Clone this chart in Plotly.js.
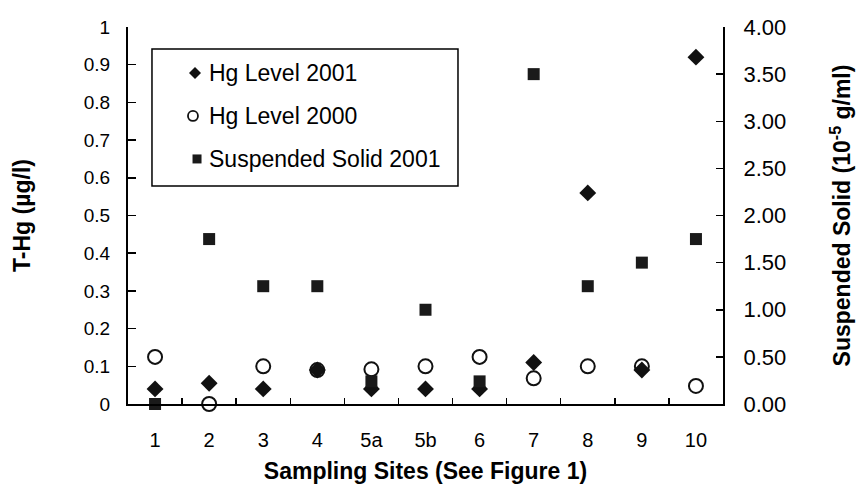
<!DOCTYPE html>
<html>
<head>
<meta charset="utf-8">
<script src="https://cdn.plot.ly/plotly-3.0.1.min.js"></script>
<style>html,body{margin:0;padding:0;background:#fff;}#chart{width:861px;height:484px;}</style>
</head>
<body>
<div id="chart"></div>
<script>
const sites = ["1", "2", "3", "4", "5a", "5b", "6", "7", "8", "9", "10"];
const hgLevel2001 = [0.04, 0.055, 0.04, 0.09, 0.04, 0.04, 0.04, 0.11, 0.56, 0.09, 0.92];
const hgLevel2000 = [0.125, 0.0, 0.10, 0.09, 0.092, 0.10, 0.125, 0.068, 0.10, 0.10, 0.048];
const suspendedSolid2001 = [0.0, 1.75, 1.25, 1.25, 0.24, 1.0, 0.24, 3.5, 1.25, 1.5, 1.75];
const seriesNames = ["Hg Level 2001", "Hg Level 2000", "Suspended Solid 2001"];

const FONT = "Liberation Sans, Arial, sans-serif";
const INK = "#111111";

const traces = [
  {
    x: sites, y: hgLevel2001, type: "scatter", mode: "markers",
    name: seriesNames[0], cliponaxis: false,
    marker: {symbol: "diamond", size: 13, color: INK, line: {width: 0}}
  },
  {
    x: sites, y: hgLevel2000, type: "scatter", mode: "markers",
    name: seriesNames[1], cliponaxis: false,
    marker: {symbol: "circle-open", size: 14, color: INK, line: {width: 2, color: INK}}
  },
  {
    x: sites, y: suspendedSolid2001, type: "scatter", mode: "markers",
    name: seriesNames[2], cliponaxis: false, yaxis: "y2",
    marker: {symbol: "square", size: 12, color: "#1a1a1a", line: {width: 0}}
  }
];

// Legend drawn as a framed box (paper coordinates) with symbol shapes and text
const legRows = [0.878, 0.764, 0.650];
const legTextX = 0.1328;
const shapes = [
  {type: "rect", xref: "paper", yref: "paper", x0: 0.0403, x1: 0.5546, y0: 0.578, y1: 0.9416,
   line: {color: "#000", width: 1.5}, fillcolor: "rgba(255,255,255,0)", layer: "above"},
  {type: "path", xref: "paper", yref: "paper", xsizemode: "pixel", ysizemode: "pixel",
   xanchor: 0.1126, yanchor: legRows[0], path: "M 0,-6 L 6,0 L 0,6 L -6,0 Z",
   fillcolor: INK, line: {width: 0}},
  {type: "circle", xref: "paper", yref: "paper", xsizemode: "pixel", ysizemode: "pixel",
   xanchor: 0.1092, yanchor: legRows[1], x0: -5, x1: 5, y0: -5, y1: 5,
   line: {color: INK, width: 1.8}},
  {type: "rect", xref: "paper", yref: "paper", xsizemode: "pixel", ysizemode: "pixel",
   xanchor: 0.1160, yanchor: legRows[2], x0: -4.5, x1: 4.5, y0: -4.5, y1: 4.5,
   fillcolor: "#1a1a1a", line: {width: 0}}
];
const annotations = seriesNames.map((n, i) => ({
  xref: "paper", yref: "paper", x: legTextX, y: legRows[i],
  xanchor: "left", yanchor: "middle", showarrow: false,
  text: n, font: {family: FONT, size: 23, color: "#000"}
}));

const layout = {
  width: 861, height: 484,
  margin: {l: 128, r: 138, t: 27, b: 80},
  paper_bgcolor: "#ffffff", plot_bgcolor: "#ffffff",
  font: {family: FONT, color: "#000000", size: 18},
  showlegend: false,
  shapes: shapes,
  annotations: annotations,
  xaxis: {
    type: "category", categoryorder: "array", categoryarray: sites,
    range: [-0.5, 10.5], tickson: "boundaries",
    ticks: "inside", ticklen: 6, tickwidth: 1.5, tickcolor: "#000",
    showline: true, linewidth: 2, linecolor: "#000",
    showgrid: false, zeroline: false, fixedrange: true,
    tickfont: {family: FONT, size: 20},
    ticklabelstandoff: 17,
    title: {text: "<b>Sampling Sites (See Figure 1)</b>", font: {family: FONT, size: 23}, standoff: 14}
  },
  yaxis: {
    range: [0, 1], dtick: 0.1, tick0: 0,
    ticks: "inside", ticklen: 8, tickwidth: 1.5, tickcolor: "#000",
    showline: true, linewidth: 2, linecolor: "#000",
    showgrid: false, zeroline: false, fixedrange: true,
    tickfont: {family: FONT, size: 19},
    ticklabelstandoff: 12,
    title: {text: "<b>T-Hg (µg/l)</b>", font: {family: FONT, size: 23}, standoff: 47}
  },
  yaxis2: {
    overlaying: "y", side: "right",
    range: [0, 4], dtick: 0.5, tick0: 0, tickformat: ".2f",
    ticks: "inside", ticklen: 7, tickwidth: 1.5, tickcolor: "#000",
    showline: true, linewidth: 2, linecolor: "#000",
    showgrid: false, zeroline: false, fixedrange: true,
    tickfont: {family: FONT, size: 22},
    ticklabelstandoff: 14,
    title: {text: "<b>Suspended Solid (10<sup>-5</sup> g/ml)</b>", font: {family: FONT, size: 23}, standoff: 49}
  }
};

Plotly.newPlot("chart", traces, layout, {staticPlot: true, displayModeBar: false});
</script>
</body>
</html>
